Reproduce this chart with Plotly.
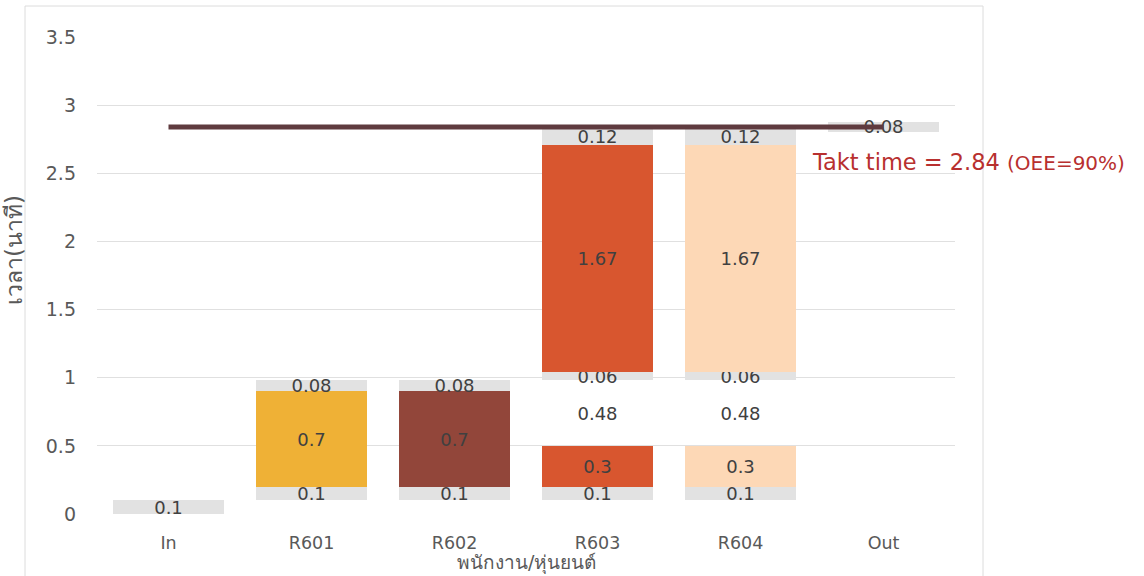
import plotly.graph_objects as go

# Stations along the line
categories = ["In", "R601", "R602", "R603", "R604", "Out"]

# Stacked time segments (minutes) per station, bottom to top
offset = [0, 0.1, 0.1, 0.1, 0.1, 2.8]             # hidden lead-in
walk_in = [0.1, 0.1, 0.1, 0.1, 0.1, None]          # grey walking time
operation_1 = [None, 0.7, 0.7, 0.3, 0.3, None]     # first operation
waiting = [None, None, None, 0.48, 0.48, None]     # idle gap (no fill)
walk_mid = [None, 0.08, 0.08, 0.06, 0.06, 0.08]    # grey walking time
operation_2 = [None, None, None, 1.67, 1.67, None] # second operation
walk_out = [None, None, None, 0.12, 0.12, None]    # grey walking time

takt_time = 2.84
oee_pct = 90

op_colors = ["#efb136", "#efb136", "#92463a", "#d8562f", "#fdd8b6", "#fdd8b6"]
grey = "#e2e2e2"
label_color = "#404040"
axis_color = "#595959"
FONT = "'DejaVu Sans', 'Noto Sans', sans-serif"

fig = go.Figure()


def add_segment(values, color, show_text=True):
    fig.add_trace(go.Bar(
        x=categories,
        y=values,
        marker=dict(color=color, line=dict(width=0)),
        text=[("" if v is None else f"{v:g}") for v in values] if show_text else None,
        texttemplate="%{text}" if show_text else None,
        textposition="inside" if show_text else "none",
        insidetextanchor="middle",
        textangle=0,
        constraintext="none",
        cliponaxis=False,
        textfont=dict(family=FONT, size=18, color=label_color),
        hoverinfo="skip",
        showlegend=False,
    ))


add_segment(offset, "rgba(0,0,0,0)", show_text=False)
add_segment(walk_in, grey)
add_segment(operation_1, op_colors)
add_segment(waiting, "rgba(0,0,0,0)")
add_segment(walk_mid, grey)
add_segment(operation_2, op_colors)
add_segment(walk_out, grey)

# Takt time reference line
fig.add_trace(go.Scatter(
    x=categories,
    y=[takt_time] * len(categories),
    mode="lines",
    line=dict(color="#5f3b3f", width=5),
    hoverinfo="skip",
    showlegend=False,
))

PX_L, PX_R, PX_T, PX_B = 97, 955, 37, 514
W, H = 1144, 576


def px_x(px):
    return (px - PX_L) / (PX_R - PX_L)


def px_y(py):
    return (PX_B - py) / (PX_B - PX_T)


fig.update_layout(
    width=W,
    height=H,
    barmode="stack",
    bargap=0.23,
    paper_bgcolor="white",
    plot_bgcolor="white",
    margin=dict(l=PX_L, r=W - PX_R, t=PX_T, b=H - PX_B),
    font=dict(family=FONT, size=18, color=axis_color),
    xaxis=dict(
        showgrid=False,
        showline=False,
        zeroline=False,
        tickfont=dict(size=17.5, color=axis_color),
        ticklabelstandoff=16,
    ),
    yaxis=dict(
        range=[0, 3.5],
        dtick=0.5,
        showgrid=True,
        gridcolor="#e0e0e0",
        gridwidth=1,
        zeroline=False,
        showline=False,
        tickfont=dict(size=19, color=axis_color),
        ticklabelstandoff=20,
    ),
    shapes=[
        dict(
            type="rect", xref="paper", yref="paper",
            x0=px_x(25), x1=px_x(983), y0=px_y(590), y1=px_y(6),
            line=dict(color="#dcdcdc", width=1), fillcolor="rgba(0,0,0,0)",
            layer="below",
        )
    ],
    annotations=[
        dict(
            text="เวลา(นาที)", textangle=-90,
            xref="paper", yref="paper", x=px_x(14), y=px_y(250),
            xanchor="center", yanchor="middle", showarrow=False,
            font=dict(family=FONT, size=23, color=axis_color),
        ),
        dict(
            text="พนักงาน/หุ่นยนต์",
            xref="paper", yref="paper", x=0.5, y=px_y(576),
            xanchor="center", yanchor="bottom", showarrow=False,
            borderpad=0,
            font=dict(family=FONT, size=19, color=axis_color),
        ),
        dict(
            text=f"Takt time = {takt_time:g} <span style='font-size:20px'>(OEE={oee_pct}%)</span>",
            xref="paper", yref="paper", x=px_x(810), y=px_y(162),
            xanchor="left", yanchor="middle", showarrow=False,
            font=dict(family=FONT, size=22.5, color="#b8302f"),
        ),
    ],
)

fig.write_html("out.html")
